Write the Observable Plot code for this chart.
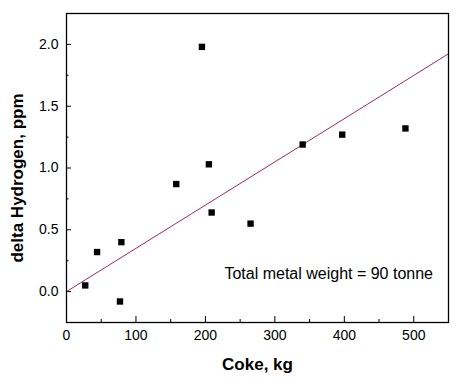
<!DOCTYPE html>
<html>
<head>
<meta charset="utf-8">
<script src="https://cdn.jsdelivr.net/npm/d3@7"></script>
<script src="https://cdn.jsdelivr.net/npm/@observablehq/plot@0.6"></script>
<style>
  html, body { margin: 0; padding: 0; background: #fff; }
  svg { display: block; }
</style>
</head>
<body>
<div id="chart"></div>
<script>
// Data
const cokeKg   = [27, 44, 79, 77, 158, 195, 205, 209, 265, 340, 397, 488];
const deltaH   = [0.05, 0.32, 0.40, -0.08, 0.87, 1.98, 1.03, 0.64, 0.55, 1.19, 1.27, 1.32];
const fitX     = [0, 550];
const fitY     = [0.0, 1.924];
const xMajor   = [0, 100, 200, 300, 400, 500];
const xMinor   = [50, 150, 250, 350, 450];
const yMajor   = [0.0, 0.5, 1.0, 1.5, 2.0];
const yMinor   = [-0.25, 0.25, 0.75, 1.25, 1.75];
const xTitle   = ["Coke, kg"];
const yTitle   = ["delta Hydrogen, ppm"];
const note     = ["Total metal weight = 90 tonne"];

const points = cokeKg.map((x, i) => ({x, y: deltaH[i]}));
const fit = fitX.map((x, i) => ({x, y: fitY[i]}));

const font = "Arial, 'Liberation Sans', sans-serif";

const chart = Plot.plot({
  width: 469,
  height: 384,
  marginLeft: 66,
  marginRight: 21,
  marginTop: 13,
  marginBottom: 62,
  style: {fontFamily: font, background: "#fff", color: "#000"},
  x: {domain: [0, 550]},
  y: {domain: [-0.25, 2.25]},
  marks: [
    Plot.axisX(xMajor, {tickSize: -6, tickPadding: 14, fontSize: 14, label: null, tickFormat: d3.format("d"), stroke: "#000", strokeWidth: 1}),
    Plot.axisX(xMinor, {tickSize: -3, tickPadding: 14, label: null, tickFormat: () => "", strokeWidth: 1}),
    Plot.axisY(yMajor, {tickSize: -5, tickPadding: 13, fontSize: 14, label: null, tickFormat: d3.format(".1f"), strokeWidth: 1}),
    Plot.axisY(yMinor, {tickSize: -2.5, tickPadding: 13, label: null, tickFormat: () => "", strokeWidth: 1}),
    Plot.line(fit, {x: "x", y: "y", stroke: "#a3295c", strokeWidth: 1}),
    Plot.dot(points, {x: "x", y: "y", symbol: "square", r: 3.6, fill: "#000", stroke: "none"}),
    Plot.text(note, {text: d => d, frameAnchor: "bottom-right", textAnchor: "end", lineAnchor: "middle", dx: -15.5, dy: -49, fontSize: 16, fill: "#000"}),
    Plot.text(xTitle, {text: d => d, frameAnchor: "bottom", textAnchor: "middle", lineAnchor: "top", dy: 35, fontSize: 17, fontWeight: "bold", fill: "#000"}),
    Plot.text(yTitle, {text: d => d, frameAnchor: "left", rotate: -90, textAnchor: "middle", lineAnchor: "top", dx: -55.5, dy: 10, fontSize: 17, fontWeight: "bold", fill: "#000"}),
    Plot.frame({stroke: "#000", strokeWidth: 1.3})
  ]
});

document.getElementById("chart").appendChild(chart);
</script>
</body>
</html>
